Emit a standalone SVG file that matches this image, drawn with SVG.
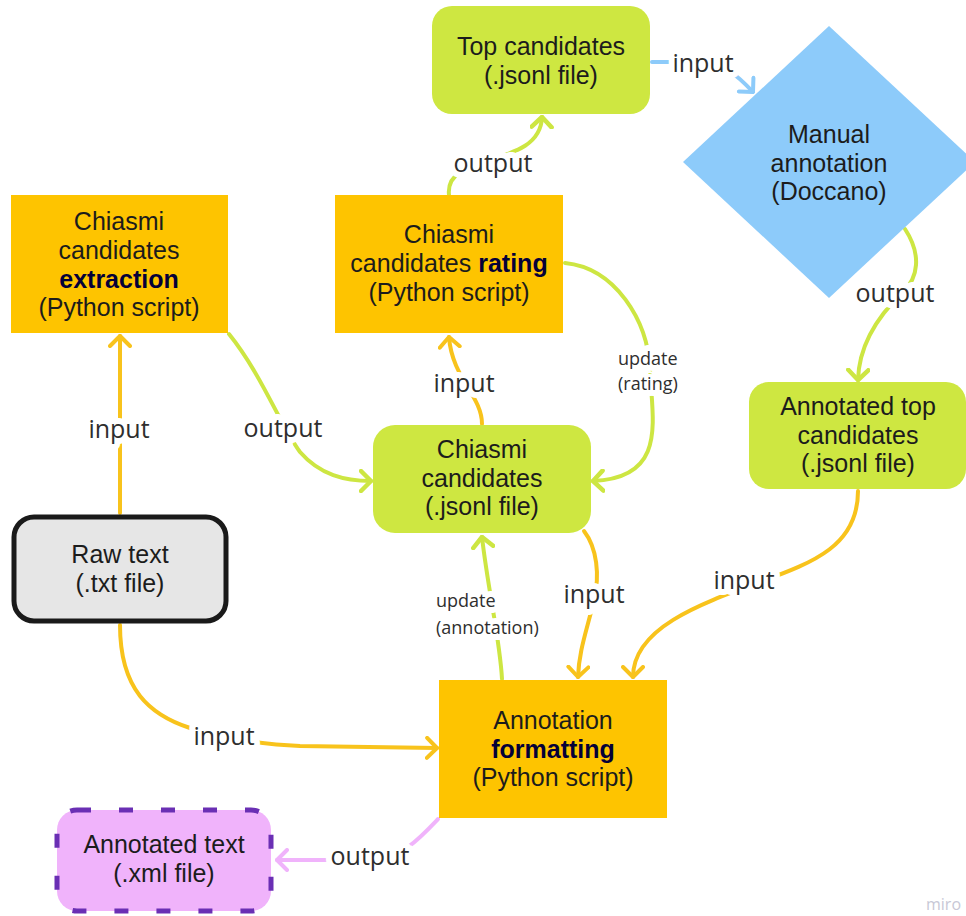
<svg xmlns="http://www.w3.org/2000/svg" width="966" height="916" viewBox="0 0 966 916">
<defs>
<style>
.nt{font-family:"Liberation Sans",Arial,sans-serif;font-size:25px;fill:#1c1c1c;text-anchor:middle}
.b{font-weight:bold;fill:#050038}
.lb{font-family:"Open Sans","Noto Sans",sans-serif;font-size:25px;fill:#2e2e2e;text-anchor:middle;stroke:#ffffff;stroke-width:12px;paint-order:stroke;stroke-linejoin:round}
.sm{font-size:18px;text-anchor:start}
.c{fill:none;stroke-width:4;stroke-linecap:round}
.y{stroke:#f8c31c}
.g{stroke:#cde642}
.bl{stroke:#8dcbfa}
.p{stroke:#f0b3fb}
.org{fill:#fec400}
.lime{fill:#cee741}
</style>
<marker id="mY" viewBox="0 0 14 24" refX="12" refY="12" markerWidth="14" markerHeight="24" orient="auto" markerUnits="userSpaceOnUse"><path d="M2,2 L12,12 L2,22" fill="none" stroke="#f8c31c" stroke-width="4" stroke-linecap="round" stroke-linejoin="round"/></marker>
<marker id="mG" viewBox="0 0 14 24" refX="12" refY="12" markerWidth="14" markerHeight="24" orient="auto" markerUnits="userSpaceOnUse"><path d="M2,2 L12,12 L2,22" fill="none" stroke="#cde642" stroke-width="4.5" stroke-linecap="round" stroke-linejoin="round"/></marker>
<marker id="mB" viewBox="0 0 14 24" refX="12" refY="12" markerWidth="14" markerHeight="24" orient="auto" markerUnits="userSpaceOnUse"><path d="M2,2 L12,12 L2,22" fill="none" stroke="#8dcbfa" stroke-width="4" stroke-linecap="round" stroke-linejoin="round"/></marker>
<marker id="mP" viewBox="0 0 14 24" refX="12" refY="12" markerWidth="14" markerHeight="24" orient="auto" markerUnits="userSpaceOnUse"><path d="M2,2 L12,12 L2,22" fill="none" stroke="#f0b3fb" stroke-width="4" stroke-linecap="round" stroke-linejoin="round"/></marker>
</defs>
<rect width="966" height="916" fill="#ffffff"/>

<g id="connectors">
  <path class="c bl" d="M652,62 L700,62 C722,62 737,75 753,92" marker-end="url(#mB)"/>
  <path class="c g" d="M905,229 C922,255 918,278 903,292 C882,312 859,342 858,380" marker-end="url(#mG)"/>
  <path class="c g" d="M449,195 C444,150 540,170 542,117" marker-end="url(#mG)"/>
  <path class="c y" d="M120,513 L120,336" marker-end="url(#mY)"/>
  <path class="c g" d="M229,334 C262,375 280,425 300,452 C320,475 345,481 371,481" marker-end="url(#mG)"/>
  <path class="c y" d="M482,424 C482,396 452,378 449,337" marker-end="url(#mY)"/>
  <path class="c g" d="M565,263 C615,268 648,320 650,370 C652,420 668,478 593,481" marker-end="url(#mG)"/>
  <path class="c g" d="M502,679 C500,640 488,590 482,537" marker-end="url(#mG)"/>
  <path class="c y" d="M584,531 C597,548 600,575 594,600 C587,630 579,650 578,677" marker-end="url(#mY)"/>
  <path class="c y" d="M858,491 C858,545 815,562 760,582 C700,604 633,628 633,677" marker-end="url(#mY)"/>
  <path class="c y" d="M120,625 C120,690 150,715 190,728 C220,738 260,744 300,746 L437,748" marker-end="url(#mY)"/>
  <path class="c p" d="M438,819 C420,838 400,860 370,860 L277,860" marker-end="url(#mP)"/>

  <text class="lb" x="703" y="72">input</text>
  <text class="lb" x="895" y="302">output</text>
  <text class="lb" x="493" y="172">output</text>
  <text class="lb" x="119" y="438">input</text>
  <text class="lb" x="283" y="437">output</text>
  <text class="lb" x="464" y="392">input</text>
  <text class="lb sm" x="618" y="365">update</text>
  <text class="lb sm" x="618" y="390">(rating)</text>
  <text class="lb sm" x="436" y="607">update</text>
  <text class="lb sm" x="436" y="634">(annotation)</text>
  <text class="lb" x="594" y="603">input</text>
  <text class="lb" x="744" y="589">input</text>
  <text class="lb" x="224" y="745">input</text>
  <text class="lb" x="370" y="865">output</text>
</g>

<g id="top-candidates">
  <rect class="lime" x="432" y="6" width="218" height="108" rx="20"/>
  <text class="nt" x="541" y="55">Top candidates</text>
  <text class="nt" x="541" y="84">(.jsonl file)</text>
</g>

<g id="manual-annotation">
  <polygon points="829,26 975,162 829,298 683,162" fill="#8dcbfa"/>
  <text class="nt" x="829" y="143">Manual</text>
  <text class="nt" x="829" y="172">annotation</text>
  <text class="nt" x="829" y="200">(Doccano)</text>
</g>

<g id="extraction">
  <rect class="org" x="11" y="195" width="217" height="138"/>
  <text class="nt" x="119" y="230">Chiasmi</text>
  <text class="nt" x="119" y="259">candidates</text>
  <text class="nt b" x="119" y="288">extraction</text>
  <text class="nt" x="119" y="316">(Python script)</text>
</g>

<g id="rating">
  <rect class="org" x="335" y="195" width="228" height="138"/>
  <text class="nt" x="449" y="243">Chiasmi</text>
  <text class="nt" x="449" y="272">candidates <tspan class="b">rating</tspan></text>
  <text class="nt" x="449" y="301">(Python script)</text>
</g>

<g id="chiasmi-candidates">
  <rect class="lime" x="373" y="425" width="218" height="108" rx="22"/>
  <text class="nt" x="482" y="458">Chiasmi</text>
  <text class="nt" x="482" y="487">candidates</text>
  <text class="nt" x="482" y="515">(.jsonl file)</text>
</g>

<g id="annotated-top-candidates">
  <rect class="lime" x="749" y="382" width="217" height="107" rx="20"/>
  <text class="nt" x="858" y="415">Annotated top</text>
  <text class="nt" x="858" y="444">candidates</text>
  <text class="nt" x="858" y="472">(.jsonl file)</text>
</g>

<g id="raw-text">
  <rect x="14" y="517" width="212" height="104" rx="20" fill="#e6e6e6" stroke="#1a1a1a" stroke-width="5"/>
  <text class="nt" x="120" y="563">Raw text</text>
  <text class="nt" x="120" y="592">(.txt file)</text>
</g>

<g id="annotation-formatting">
  <rect class="org" x="439" y="680" width="228" height="138"/>
  <text class="nt" x="553" y="729">Annotation</text>
  <text class="nt b" x="553" y="758">formatting</text>
  <text class="nt" x="553" y="786">(Python script)</text>
</g>

<g id="annotated-text">
  <rect x="57" y="810" width="214" height="101" rx="20" fill="#f0b3fb" stroke="#6a2fb4" stroke-width="5" stroke-dasharray="14 28"/>
  <text class="nt" x="164" y="853">Annotated text</text>
  <text class="nt" x="164" y="882">(.xml file)</text>
</g>

<text x="926" y="910" font-family="Open Sans, sans-serif" font-size="16" fill="#c8c8d6">miro</text>
</svg>
